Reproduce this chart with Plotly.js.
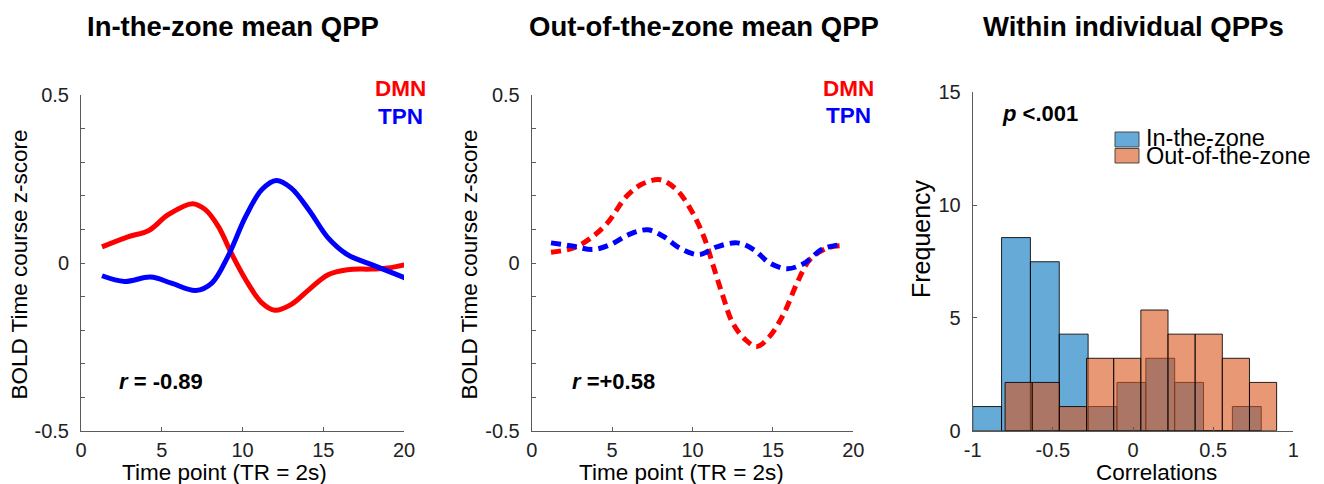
<!DOCTYPE html>
<html>
<head>
<meta charset="utf-8">
<script src="https://cdn.plot.ly/plotly-3.0.1.min.js"></script>
<style>html,body{margin:0;padding:0;background:#fff;}#chart{width:1324px;height:484px;}</style>
</head>
<body>
<div id="chart"></div>
<script>
// ---------- data ----------
// Panel 1: In-the-zone mean QPP (solid)
const inDmnT = [1.3, 2.9, 4.2, 5.4, 6.9, 7.7, 8.5, 9.3, 10.2, 11.2, 12.0, 13.0, 14.1, 15.3, 16.5, 18.0, 19.0, 20.1];
const inDmnV = [0.048, 0.078, 0.097, 0.144, 0.177, 0.159, 0.109, 0.030, -0.050, -0.119, -0.141, -0.124, -0.080, -0.035, -0.020, -0.018, -0.015, -0.005];
const inTpnT = [1.3, 2.7, 4.3, 5.6, 7.1, 8.1, 9.1, 10.2, 11.2, 12.1, 13.0, 14.1, 15.3, 16.5, 18.0, 20.1];
const inTpnV = [-0.038, -0.055, -0.042, -0.060, -0.082, -0.060, 0.020, 0.139, 0.219, 0.246, 0.224, 0.159, 0.075, 0.025, -0.005, -0.045];
// Panel 2: Out-of-the-zone mean QPP (dashed)
const outDmnT = [1.2, 2.6, 3.6, 4.7, 5.9, 6.9, 8.0, 9.0, 9.9, 10.7, 11.3, 11.9, 12.5, 13.3, 14.0, 14.8, 15.7, 16.5, 17.3, 18.4, 19.3];
const outDmnV = [0.032, 0.045, 0.072, 0.119, 0.199, 0.236, 0.248, 0.219, 0.159, 0.079, -0.010, -0.100, -0.179, -0.229, -0.249, -0.219, -0.149, -0.060, 0.010, 0.045, 0.052];
const outTpnT = [1.2, 2.6, 3.8, 4.9, 6.0, 7.2, 8.2, 9.2, 10.4, 11.5, 12.8, 13.8, 14.8, 15.9, 16.9, 18.1, 19.3];
const outTpnV = [0.060, 0.050, 0.040, 0.055, 0.084, 0.099, 0.079, 0.045, 0.025, 0.048, 0.060, 0.040, 0.000, -0.017, -0.002, 0.042, 0.055];
// Panel 3: histograms of within-individual QPP correlations
const inBinStart = -1.0, inBinWidth = 0.18;
const inFreq  = [1.07, 8.56, 7.49, 4.28, 1.07, 2.14, 3.21, 2.14, 0, 1.07];
const outBinStart = -0.798, outBinWidth = 0.1694;
const outFreq = [2.14, 2.14, 1.07, 3.21, 3.21, 5.35, 4.28, 4.28, 3.21, 2.14];
// tick labels
const qppYTickVals = [-0.5,-0.4,-0.3,-0.2,-0.1,0,0.1,0.2,0.3,0.4,0.5];
const qppYTickText = ['-0.5','','','','','0','','','','','0.5'];
const qppXTickVals = [0,5,10,15,20];
const qppXTickText = ['0','5','10','15','20'];
const histXTickVals = [-1,-0.5,0,0.5,1];
const histXTickText = ['-1','-0.5','0','0.5','1'];
const histYTickVals = [0,5,10,15];
const histYTickText = ['0','5','10','15'];

// ---------- helpers ----------
const W = 1324, H = 484;
const px = x => x / W;
const py = y => 1 - y / H;
const centers = (start, w, n) => Array.from({length: n}, (_, i) => start + w * (i + 0.5));

const RED = '#ff0000', BLUE = '#0000ff';
const FONT = '"Liberation Sans", Arial, Helvetica, sans-serif';
const AXC = '#5a5a5a';

const traces = [
  {x: inDmnT, y: inDmnV, xaxis: 'x', yaxis: 'y', mode: 'lines', line: {color: RED, width: 5, shape: 'spline', smoothing: 1}},
  {x: inTpnT, y: inTpnV, xaxis: 'x', yaxis: 'y', mode: 'lines', line: {color: BLUE, width: 5, shape: 'spline', smoothing: 1}},
  {x: outDmnT, y: outDmnV, xaxis: 'x2', yaxis: 'y2', mode: 'lines', line: {color: RED, width: 5, shape: 'spline', smoothing: 1, dash: '10px,6px'}},
  {x: outTpnT, y: outTpnV, xaxis: 'x2', yaxis: 'y2', mode: 'lines', line: {color: BLUE, width: 5, shape: 'spline', smoothing: 1, dash: '10px,6px'}},
  {type: 'bar', x: centers(inBinStart, inBinWidth, inFreq.length), y: inFreq, width: inBinWidth, xaxis: 'x3', yaxis: 'y3',
   marker: {color: 'rgba(0,114,189,0.6)', line: {color: 'rgba(0,0,0,0.85)', width: 1}}},
  {type: 'bar', x: centers(outBinStart, outBinWidth, outFreq.length), y: outFreq, width: outBinWidth, xaxis: 'x3', yaxis: 'y3',
   marker: {color: 'rgba(217,83,25,0.6)', line: {color: 'rgba(0,0,0,0.85)', width: 1}}}
];

const baseAxis = {
  showline: true, linecolor: AXC, linewidth: 1, ticks: 'inside', ticklen: 4, tickcolor: AXC, tickwidth: 1,
  showgrid: false, zeroline: false, mirror: false, fixedrange: true,
  tickfont: {family: FONT, size: 20, color: '#222'}, tickmode: 'array'
};
const yTop12 = py(95.3), yBot = py(430.7);

const layout = {
  width: W, height: H, margin: {l: 0, r: 0, t: 0, b: 0},
  paper_bgcolor: '#fff', plot_bgcolor: 'rgba(0,0,0,0)',
  showlegend: false, barmode: 'overlay', bargap: 0,
  font: {family: FONT, color: '#000'},
  xaxis:  Object.assign({}, baseAxis, {domain: [px(81), px(404)], range: [0, 20], tickvals: qppXTickVals, ticktext: qppXTickText, anchor: 'y', ticklabelstandoff: 1}),
  yaxis:  Object.assign({}, baseAxis, {domain: [yBot, yTop12], range: [-0.5, 0.5], tickvals: qppYTickVals, ticktext: qppYTickText, anchor: 'x', ticklabelstandoff: 7}),
  xaxis2: Object.assign({}, baseAxis, {domain: [px(531.7), px(853.3)], range: [0, 20], tickvals: qppXTickVals, ticktext: qppXTickText, anchor: 'y2', ticklabelstandoff: 1}),
  yaxis2: Object.assign({}, baseAxis, {domain: [yBot, yTop12], range: [-0.5, 0.5], tickvals: qppYTickVals, ticktext: qppYTickText, anchor: 'x2', ticklabelstandoff: 7}),
  xaxis3: Object.assign({}, baseAxis, {domain: [px(972.7), px(1293.3)], range: [-1, 1], tickvals: histXTickVals, ticktext: histXTickText, anchor: 'y3', ticklabelstandoff: 1}),
  yaxis3: Object.assign({}, baseAxis, {domain: [yBot, py(92.3)], range: [0, 15], tickvals: histYTickVals, ticktext: histYTickText, anchor: 'x3', ticklabelstandoff: 7}),
  shapes: [
    {type: 'rect', xref: 'paper', yref: 'paper', x0: px(1115), x1: px(1139), y0: py(132), y1: py(147),
     fillcolor: 'rgba(0,114,189,0.6)', line: {color: 'rgba(60,60,60,0.9)', width: 1}},
    {type: 'rect', xref: 'paper', yref: 'paper', x0: px(1115), x1: px(1139), y0: py(148.5), y1: py(163),
     fillcolor: 'rgba(217,83,25,0.6)', line: {color: 'rgba(60,60,60,0.9)', width: 1}}
  ],
  annotations: []
};

function ann(text, x, y, opts) {
  layout.annotations.push(Object.assign({
    text: text, xref: 'paper', yref: 'paper', x: px(x), y: py(y),
    xanchor: 'center', yanchor: 'middle', showarrow: false,
    font: {family: FONT, size: 22, color: '#000'}
  }, opts || {}));
}
// titles
ann('<b>In-the-zone mean QPP</b>', 232.5, 27, {font: {family: FONT, size: 27.5, color: '#000'}});
ann('<b>Out-of-the-zone mean QPP</b>', 704, 27, {font: {family: FONT, size: 27.5, color: '#000'}});
ann('<b>Within individual QPPs</b>', 1133, 27, {font: {family: FONT, size: 27.5, color: '#000'}});
// network labels
ann('<b>DMN</b>', 400, 88, {font: {family: FONT, size: 22.5, color: RED}});
ann('<b>TPN</b>', 400, 116.5, {font: {family: FONT, size: 22.5, color: BLUE}});
ann('<b>DMN</b>', 848, 88, {font: {family: FONT, size: 22.5, color: RED}});
ann('<b>TPN</b>', 848, 115.5, {font: {family: FONT, size: 22.5, color: BLUE}});
// stats
ann('<b><i>r</i> = -0.89</b>', 117, 381.7, {xanchor: 'left'});
ann('<b><i>r</i> =+0.58</b>', 570, 381.7, {xanchor: 'left'});
ann('<b><i>p</i> &lt;.001</b>', 1000, 113, {xanchor: 'left'});
// legend text
ann('In-the-zone', 1144, 138, {xanchor: 'left', font: {family: FONT, size: 23.5, color: '#000'}});
ann('Out-of-the-zone', 1144, 156, {xanchor: 'left', font: {family: FONT, size: 23.5, color: '#000'}});
// axis titles
ann('Time point (TR = 2s)', 224, 472, {font: {family: FONT, size: 22.5, color: '#000'}});
ann('Time point (TR = 2s)', 681.7, 472, {font: {family: FONT, size: 22.5, color: '#000'}});
ann('Correlations', 1156, 472, {font: {family: FONT, size: 22.5, color: '#000'}});
ann('BOLD Time course z-score', 19, 264.5, {textangle: -90, font: {family: FONT, size: 22.5, color: '#000'}});
ann('BOLD Time course z-score', 469, 264.5, {textangle: -90, font: {family: FONT, size: 22.5, color: '#000'}});
ann('Frequency', 921, 239, {textangle: -90, font: {family: FONT, size: 25, color: '#000'}});

Plotly.newPlot('chart', traces, layout, {displayModeBar: false, staticPlot: true});
</script>
</body>
</html>
